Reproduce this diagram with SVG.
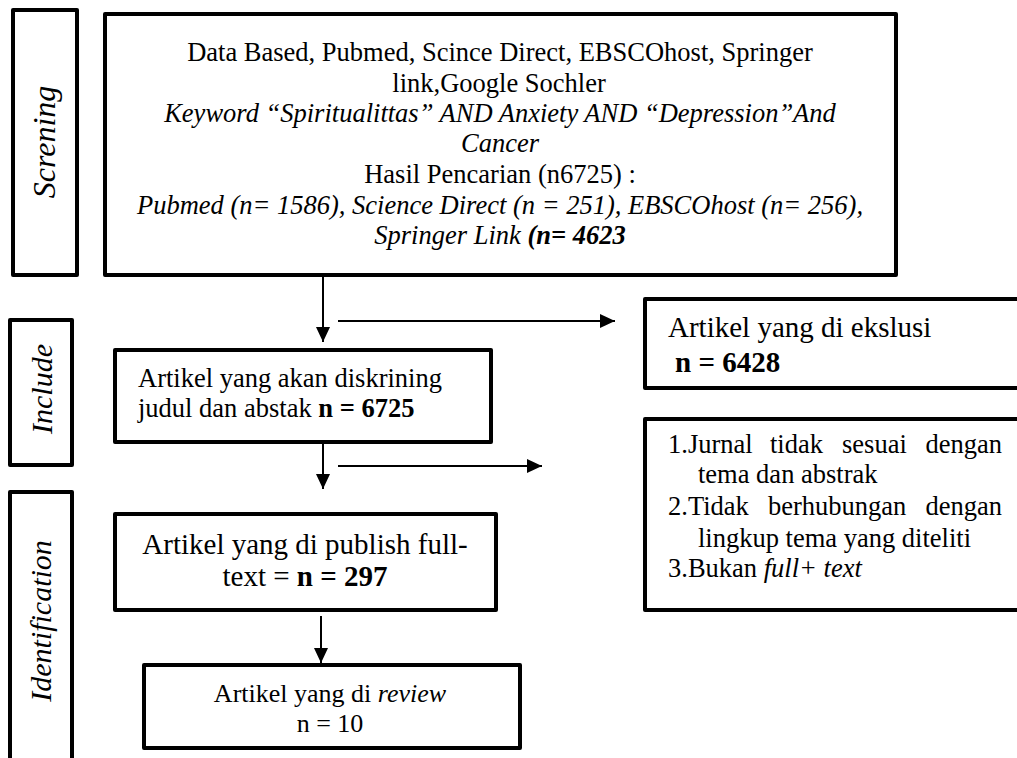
<svg xmlns="http://www.w3.org/2000/svg" width="1017" height="758" viewBox="0 0 1017 758">
<style>
.box{fill:#fff;stroke:#000;stroke-width:4;stroke-linejoin:round}
.t{font-family:"Liberation Serif","Times New Roman",serif;fill:#000}
.c{stroke:#000;stroke-width:2;fill:none}
.i{font-style:italic}
.b{font-weight:bold}
</style>
<defs>
<marker id="ah" markerUnits="userSpaceOnUse" markerWidth="16" markerHeight="14" refX="15" refY="7" orient="auto">
<path d="M0,0 L15,7 L0,14 Z" fill="#000"/>
</marker>
</defs>
<rect width="1017" height="758" fill="#fff"/>
<g id="screening">
<rect class="box" x="13" y="10" width="64" height="265"/>
<text class="t i" font-size="32" transform="translate(55,142) rotate(-90)" text-anchor="middle">Screning</text>
</g>
<g id="include-label">
<rect class="box" x="10" y="320" width="62" height="145"/>
<text class="t i" font-size="30" transform="translate(52,389) rotate(-90)" text-anchor="middle">Include</text>
</g>
<g id="identification-label">
<rect class="box" x="10" y="492" width="62" height="290"/>
<text class="t i" font-size="30" transform="translate(51,621) rotate(-90)" text-anchor="middle">Identification</text>
</g>
<g id="search">
<rect class="box" x="105" y="14" width="791" height="261"/>
<g class="t" font-size="26.5" text-anchor="middle">
<text x="500" y="61">Data Based, Pubmed, Scince Direct, EBSCOhost, Springer</text>
<text x="499" y="91.5">link,Google Sochler</text>
<text x="500" y="121.5" class="i">Keyword “Spiritualittas” AND Anxiety AND “Depression”And</text>
<text x="500" y="152" class="i">Cancer</text>
<text x="500" y="183">Hasil Pencarian (n6725) :</text>
<text x="500" y="213.5" class="i">Pubmed (n= 1586), Science Direct (n = 251), EBSCOhost (n= 256),</text>
<text x="500" y="244" class="i">Springer Link <tspan class="b">(n= 4623</tspan></text>
</g>
</g>
<g id="screened">
<rect class="box" x="115" y="350" width="376" height="92"/>
<text class="t" font-size="26.5" x="138" y="387">Artikel yang akan diskrining</text>
<text class="t" font-size="26.5" x="138" y="417">judul dan abstak <tspan class="b">n = 6725</tspan></text>
</g>
<g id="fulltext">
<rect class="box" x="115" y="514" width="381" height="96"/>
<text class="t" font-size="29" x="305" y="554" text-anchor="middle">Artikel yang di publish full-</text>
<text class="t" font-size="29" x="305" y="586" text-anchor="middle">text = <tspan class="b">n = 297</tspan></text>
</g>
<g id="reviewed">
<rect class="box" x="144" y="665" width="376" height="83"/>
<text class="t" font-size="26" x="330" y="702" text-anchor="middle">Artikel yang di <tspan class="i">review</tspan></text>
<text class="t" font-size="26" x="330" y="732" text-anchor="middle">n = 10</text>
</g>
<g id="excluded">
<rect class="box" x="645" y="299" width="400" height="89"/>
<text class="t" font-size="29" x="668" y="337">Artikel yang di ekslusi</text>
<text class="t b" font-size="29" x="675" y="372">n = 6428</text>
</g>
<g id="reasons">
<rect class="box" x="645" y="419" width="400" height="191"/>
<g class="t" font-size="26.5">
<text x="668" y="453">1.Jurnal</text>
<text x="770" y="453">tidak</text>
<text x="842" y="453">sesuai</text>
<text x="1002" y="453" text-anchor="end">dengan</text>
<text x="698" y="483">tema dan abstrak</text>
<text x="668" y="515">2.Tidak</text>
<text x="768" y="515">berhubungan</text>
<text x="1002" y="515" text-anchor="end">dengan</text>
<text x="698" y="547">lingkup tema yang diteliti</text>
<text x="668" y="577">3.Bukan <tspan class="i">full+ text</tspan></text>
</g>
</g>
<g id="connectors">
<line class="c" x1="323" y1="277" x2="323" y2="342" marker-end="url(#ah)"/>
<line class="c" x1="338" y1="321" x2="615" y2="321" marker-end="url(#ah)"/>
<line class="c" x1="323" y1="444" x2="323" y2="489" marker-end="url(#ah)"/>
<line class="c" x1="338" y1="466" x2="542" y2="466" marker-end="url(#ah)"/>
<line class="c" x1="321" y1="616" x2="321" y2="663" marker-end="url(#ah)"/>
</g>
</svg>
